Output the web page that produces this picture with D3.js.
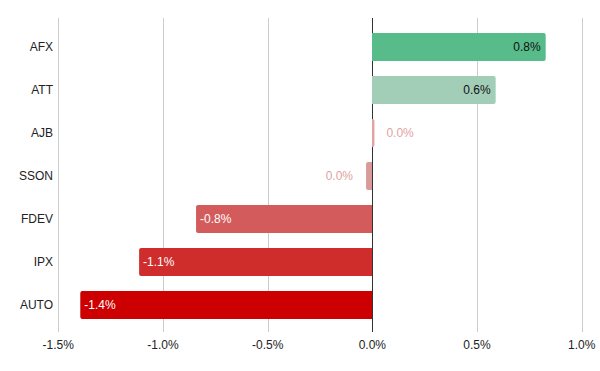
<!DOCTYPE html>
<html><head><meta charset="utf-8">
<script src="https://cdn.jsdelivr.net/npm/d3@7"></script>
<style>body{margin:0;background:#fff}svg{display:block;font-family:"Liberation Sans",Arial,sans-serif}</style>
</head><body>
<script>
const categories = ["AFX","ATT","AJB","SSON","FDEV","IPX","AUTO"];
const values = [0.828, 0.589, 0.01, -0.03, -0.842, -1.114, -1.395];
const labels = ["0.8%","0.6%","0.0%","0.0%","-0.8%","-1.1%","-1.4%"];
const barColors = ["#57bb8a","#a2cdb7","#e2a3a3","#d99a9a","#d45b5b","#cf2c2c","#cc0000"];
const tickValues = [-1.5,-1.0,-0.5,0,0.5,1.0];
const tickLabels = ["-1.5%","-1.0%","-0.5%","0.0%","0.5%","1.0%"];

const W=600,H=371;
const svg=d3.select("body").append("svg").attr("width",W).attr("height",H);
const x=d3.scaleLinear().domain([-1.5,1.0]).range([58.3,581.7]);
const y=d3.scaleBand().domain(categories).range([25.5,326.5]).paddingInner(0.35).paddingOuter(0.175);
const plotTop=18,plotBottom=332;
const zeroX=Math.round(x(0))+0.5;

// gridlines
svg.append("g").selectAll("line").data(tickValues.filter(v=>v!==0)).join("line")
  .attr("x1",d=>Math.round(x(d))+0.5).attr("x2",d=>Math.round(x(d))+0.5)
  .attr("y1",plotTop).attr("y2",plotBottom).attr("stroke","#cccccc").attr("stroke-width",1);

// x tick labels
svg.append("g").selectAll("text").data(tickValues).join("text")
  .attr("x",d=>x(d)).attr("y",349).attr("text-anchor","middle")
  .attr("font-size",12).attr("fill","#222").text((d,i)=>tickLabels[i]);

// zero line
svg.append("line").attr("x1",zeroX).attr("x2",zeroX)
  .attr("y1",plotTop).attr("y2",plotBottom).attr("stroke","#333").attr("stroke-width",1);

// bars
const data=categories.map((c,i)=>({c,v:values[i],l:labels[i],col:barColors[i]}));
function barPath(d){
  const y0=y(d.c),h=y.bandwidth(),r=2;
  const x1=x(d.v);
  const x0=d.v>=0?zeroX-0.5:zeroX-0.5;
  const w=Math.abs(x1-x0);
  const rr=Math.min(r,w);
  if(d.v>=0){
    return `M${x0},${y0}H${x1-rr}Q${x1},${y0} ${x1},${y0+rr}V${y0+h-rr}Q${x1},${y0+h} ${x1-rr},${y0+h}H${x0}Z`;
  } else {
    return `M${x0},${y0}H${x1+rr}Q${x1},${y0} ${x1},${y0+rr}V${y0+h-rr}Q${x1},${y0+h} ${x1+rr},${y0+h}H${x0}Z`;
  }
}
svg.append("g").selectAll("path").data(data).join("path")
  .attr("d",barPath).attr("fill",d=>d.col);

// category labels
svg.append("g").selectAll("text").data(categories).join("text")
  .attr("x",53).attr("y",d=>y(d)+y.bandwidth()/2).attr("dy","0.35em")
  .attr("text-anchor","end").attr("font-size",12).attr("fill","#222").text(d=>d);

// value labels
svg.append("g").selectAll("text").data(data).join("text")
  .attr("font-size",12)
  .attr("y",d=>y(d.c)+y.bandwidth()/2).attr("dy","0.35em")
  .each(function(d){
    const t=d3.select(this);
    const w=Math.abs(x(d.v)-x(0));
    if(w>40){
      if(d.v>=0){t.attr("x",x(d.v)-5).attr("text-anchor","end").attr("fill","#111");}
      else{t.attr("x",x(d.v)+4).attr("text-anchor","start").attr("fill","#fff");}
    } else {
      if(d.v>=0){t.attr("x",x(d.v)+12).attr("text-anchor","start").attr("fill","#e0a3a3");}
      else{t.attr("x",x(d.v)-13).attr("text-anchor","end").attr("fill","#e0a3a3");}
    }
  }).text(d=>d.l);
</script>
</body></html>
